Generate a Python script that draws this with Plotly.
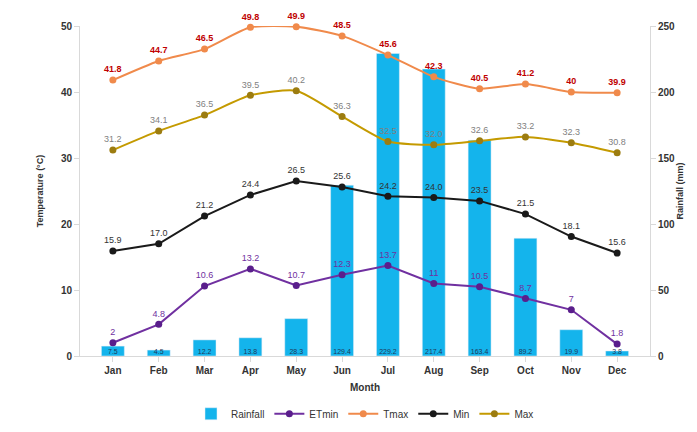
import plotly.graph_objects as go

months = ["Jan", "Feb", "Mar", "Apr", "May", "Jun", "Jul", "Aug", "Sep", "Oct", "Nov", "Dec"]
rainfall = [7.5, 4.5, 12.2, 13.8, 28.3, 129.4, 229.2, 217.4, 163.4, 89.2, 19.9, 3.8]
et_min = [2, 4.8, 10.6, 13.2, 10.7, 12.3, 13.7, 11, 10.5, 8.7, 7, 1.8]
t_max = [41.8, 44.7, 46.5, 49.8, 49.9, 48.5, 45.6, 42.3, 40.5, 41.2, 40, 39.9]
t_min_avg = [15.9, 17.0, 21.2, 24.4, 26.5, 25.6, 24.2, 24.0, 23.5, 21.5, 18.1, 15.6]
t_max_avg = [31.2, 34.1, 36.5, 39.5, 40.2, 36.3, 32.5, 32.0, 32.6, 33.2, 32.3, 30.8]

font = "Liberation Sans"


def fmt(v):
    return f"{v:g}" if float(v).is_integer() and v in (2, 7, 11, 40) else f"{v:.1f}"


fig = go.Figure()
fig.add_trace(go.Bar(x=months, y=rainfall, name="Rainfall", marker_color="#14B4EC",
                     width=0.5, yaxis="y"))
fig.add_trace(go.Scatter(x=months, y=[0] * 12, mode="text", showlegend=False,
                         text=[f"{v:.1f}" for v in rainfall], textposition="top center",
                         textfont=dict(size=7, color="#1f3a5a"), yaxis="y"))

fig.add_trace(go.Scatter(x=months, y=et_min, name="ETmin", mode="lines+markers+text",
                         line=dict(color="#7030A0", width=2), marker=dict(size=7, color="#5A1E8C"),
                         text=[fmt(v) for v in et_min], textposition="top center",
                         textfont=dict(size=9, color="#7030A0"), yaxis="y2", cliponaxis=False))
fig.add_trace(go.Scatter(x=months, y=t_max, name="Tmax", mode="lines+markers+text",
                         line=dict(color="#F08A4B", width=2, shape="spline", smoothing=0.6),
                         marker=dict(size=7, color="#F08A4B"),
                         text=[f"<b>{fmt(v)}</b>" for v in t_max], textposition="top center",
                         textfont=dict(size=9, color="#C00000"),
                         yaxis="y2", cliponaxis=False))
fig.add_trace(go.Scatter(x=months, y=t_min_avg, name="Min", mode="lines+markers+text",
                         line=dict(color="#1a1a1a", width=2), marker=dict(size=7, color="#1a1a1a"),
                         text=[f"{v:.1f}" for v in t_min_avg], textposition="top center",
                         textfont=dict(size=9, color="#333333"), yaxis="y2", cliponaxis=False))
fig.add_trace(go.Scatter(x=months, y=t_max_avg, name="Max", mode="lines+markers+text",
                         line=dict(color="#C49A00", width=2, shape="spline", smoothing=0.6),
                         marker=dict(size=7, color="#9C7C10"),
                         text=[f"{v:.1f}" for v in t_max_avg], textposition="top center",
                         textfont=dict(size=9, color="#7f7f7f"), yaxis="y2", cliponaxis=False))

fig.update_layout(
    width=697, height=432,
    margin=dict(l=72, r=55, t=18, b=72),
    plot_bgcolor="white", paper_bgcolor="white",
    font=dict(family=font, size=10, color="#333333"),
    xaxis=dict(showline=True, linecolor="#d9d9d9", ticks="outside", tickcolor="#d9d9d9",
               tickfont=dict(size=10, color="#333333", family=font),
               title=dict(text="<b>Month</b>", font=dict(size=10), standoff=8),
               tickprefix="<b>", ticksuffix="</b>"),
    yaxis=dict(side="right", range=[0, 250], dtick=50, showgrid=False, zeroline=False,
               showline=True, linecolor="#d9d9d9", ticks="outside", tickcolor="#d9d9d9",
               tickfont=dict(size=10), tickprefix="<b>", ticksuffix="</b>",
               title=dict(text="<b>Rainfall (mm)</b>", font=dict(size=9), standoff=0),
               automargin=False),
    yaxis2=dict(side="left", overlaying="y", range=[0, 50], dtick=10, showgrid=False,
                zeroline=False, showline=True, linecolor="#d9d9d9", ticks="outside",
                tickcolor="#d9d9d9", tickfont=dict(size=10), tickprefix="<b>", ticksuffix="</b>",
                title=dict(text="<b>Temperature (°C)</b>", font=dict(size=9))),
    legend=dict(orientation="h", x=0.5, xanchor="center", y=-0.175, yanchor="middle",
                font=dict(size=10), traceorder="normal"),
    showlegend=True,
)

fig.write_html("out.html")
